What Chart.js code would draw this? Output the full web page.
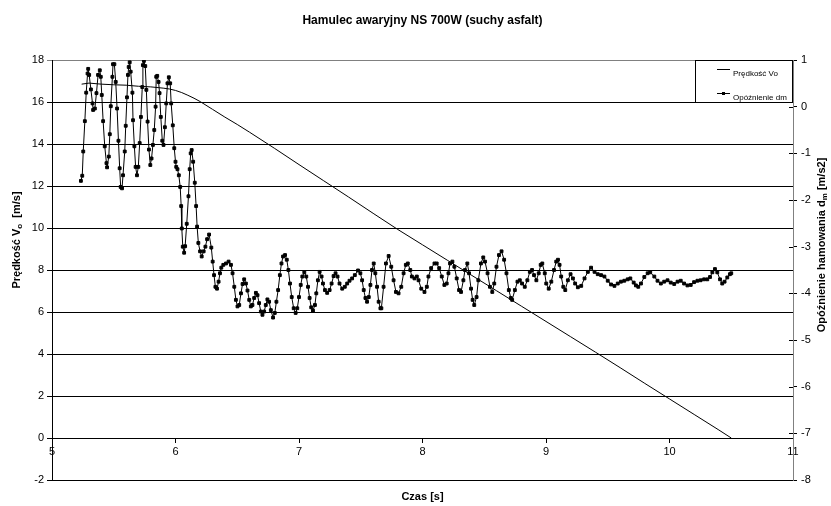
<!DOCTYPE html>
<html>
<head>
<meta charset="utf-8">
<script src="https://cdn.jsdelivr.net/npm/chart.js@4"></script>
<style>
  html, body { margin: 0; padding: 0; background: #fff; }
  canvas { display: block; }
</style>
</head>
<body>
<canvas id="chart" width="831" height="506"></canvas>
<script>
const chartTitle = 'Hamulec awaryjny NS 700W (suchy asfalt)';
const xTitle = 'Czas [s]';
const legendLabels = ['Prędkość Vo', 'Opóźnienie dm'];

// Prędkość V0 [m/s] (left axis)
const speedTime = [5.24, 5.30, 5.40, 5.50, 5.60, 5.70, 5.80, 5.90, 5.95, 6.00,
  6.05, 6.10, 6.15, 6.20, 6.30, 6.40, 6.50, 6.60, 6.80, 7.00,
  7.20, 7.40, 7.60, 7.80, 8.00, 8.20, 8.40, 8.60, 8.80, 9.00,
  9.20, 9.40, 9.60, 9.80, 10.00, 10.20, 10.40, 10.50];
const speedValue = [16.85, 16.90, 16.85, 16.82, 16.80, 16.75, 16.72, 16.66, 16.62, 16.55,
  16.45, 16.32, 16.18, 16.02, 15.65, 15.28, 14.93, 14.56, 13.80, 13.02,
  12.25, 11.48, 10.70, 9.93, 9.20, 8.47, 7.74, 7.01, 6.28, 5.55,
  4.82, 4.09, 3.35, 2.60, 1.86, 1.12, 0.38, 0.00];

// Opóźnienie hamowania dm [m/s2] (right axis)
const decelTime = [
  5.234, 5.245, 5.253, 5.266, 5.277, 5.288, 5.293, 5.301, 5.315, 5.328,
  5.333, 5.347, 5.360, 5.373, 5.387, 5.395, 5.403, 5.414, 5.427, 5.441,
  5.446, 5.460, 5.468, 5.476, 5.489, 5.494, 5.505, 5.516, 5.527, 5.538,
  5.548, 5.556, 5.567, 5.575, 5.589, 5.597, 5.607, 5.615, 5.621, 5.629,
  5.637, 5.651, 5.656, 5.667, 5.677, 5.688, 5.699, 5.710, 5.720, 5.731,
  5.736, 5.744, 5.755, 5.764, 5.774, 5.785, 5.796, 5.806, 5.817, 5.828,
  5.839, 5.844, 5.852, 5.863, 5.871, 5.881, 5.893, 5.903, 5.914, 5.925,
  5.935, 5.946, 5.957, 5.965, 5.978, 5.990, 6.000, 6.006, 6.016, 6.027,
  6.038, 6.046, 6.051, 6.059, 6.070, 6.078, 6.091, 6.105, 6.115, 6.123,
  6.131, 6.143, 6.156, 6.167, 6.175, 6.185, 6.199, 6.212, 6.228, 6.242,
  6.256, 6.272, 6.290, 6.301, 6.312, 6.323, 6.336, 6.349, 6.360, 6.371,
  6.387, 6.409, 6.430, 6.449, 6.462, 6.476, 6.489, 6.502, 6.516, 6.530,
  6.543, 6.556, 6.570, 6.583, 6.597, 6.610, 6.623, 6.637, 6.651, 6.664,
  6.677, 6.691, 6.704, 6.718, 6.731, 6.744, 6.758, 6.772, 6.790, 6.804,
  6.817, 6.831, 6.845, 6.858, 6.871, 6.887, 6.901, 6.914, 6.927, 6.941,
  6.957, 6.973, 6.986, 7.000, 7.014, 7.027, 7.043, 7.059, 7.073, 7.086,
  7.099, 7.113, 7.129, 7.140, 7.153, 7.167, 7.183, 7.194, 7.210, 7.228,
  7.248, 7.264, 7.280, 7.296, 7.312, 7.328, 7.350, 7.371, 7.390, 7.409,
  7.430, 7.452, 7.478, 7.497, 7.511, 7.524, 7.538, 7.551, 7.565, 7.578,
  7.591, 7.605, 7.618, 7.632, 7.645, 7.659, 7.667, 7.685, 7.704, 7.726,
  7.747, 7.766, 7.785, 7.806, 7.828, 7.847, 7.865, 7.881, 7.901, 7.914,
  7.935, 7.954, 7.968, 7.990, 8.016, 8.035, 8.048, 8.070, 8.097, 8.115,
  8.135, 8.156, 8.177, 8.196, 8.210, 8.223, 8.242, 8.258, 8.277, 8.296,
  8.312, 8.331, 8.344, 8.363, 8.377, 8.393, 8.406, 8.419, 8.438, 8.452,
  8.473, 8.492, 8.506, 8.527, 8.546, 8.565, 8.581, 8.599, 8.619, 8.640,
  8.661, 8.680, 8.699, 8.715, 8.726, 8.748, 8.769, 8.788, 8.806, 8.828,
  8.849, 8.869, 8.887, 8.903, 8.922, 8.941, 8.957, 8.970, 8.990, 9.002,
  9.022, 9.043, 9.065, 9.083, 9.097, 9.110, 9.123, 9.140, 9.156, 9.177,
  9.199, 9.218, 9.236, 9.258, 9.285, 9.312, 9.339, 9.365, 9.393, 9.419,
  9.446, 9.473, 9.500, 9.527, 9.554, 9.581, 9.607, 9.634, 9.661, 9.683,
  9.710, 9.728, 9.747, 9.769, 9.796, 9.823, 9.844, 9.877, 9.903, 9.930,
  9.957, 9.984, 10.010, 10.038, 10.065, 10.091, 10.118, 10.145, 10.172, 10.199,
  10.226, 10.252, 10.280, 10.306, 10.328, 10.347, 10.368, 10.387, 10.409, 10.427,
  10.446, 10.468, 10.489, 10.500];
const decelValue = [
  -1.59, -1.48, -0.96, -0.31, 0.30, 0.71, 0.81, 0.68, 0.37, 0.07,
  -0.07, -0.04, 0.29, 0.68, 0.78, 0.64, 0.25, -0.31, -0.85, -1.21,
  -1.30, -1.07, -0.59, 0.01, 0.64, 0.91, 0.91, 0.53, -0.04, -0.73,
  -1.32, -1.72, -1.75, -1.47, -0.96, -0.41, 0.20, 0.68, 0.85, 0.95,
  0.75, 0.30, -0.29, -0.85, -1.29, -1.47, -1.29, -0.78, -0.22, 0.42,
  0.89, 0.98, 0.87, 0.36, -0.32, -0.92, -1.25, -1.11, -0.82, -0.50,
  0.00, 0.64, 0.66, 0.53, 0.29, -0.22, -0.73, -0.82, -0.44, 0.07,
  0.50, 0.63, 0.50, 0.07, -0.40, -0.89, -1.18, -1.29, -1.34, -1.47,
  -1.72, -2.13, -2.61, -3.00, -3.13, -2.99, -2.51, -1.92, -1.34, -1.00,
  -0.93, -1.18, -1.63, -2.13, -2.57, -2.92, -3.10, -3.21, -3.10, -3.00,
  -2.84, -2.74, -3.02, -3.32, -3.61, -3.86, -3.90, -3.75, -3.57, -3.45,
  -3.39, -3.36, -3.32, -3.39, -3.57, -3.86, -4.14, -4.28, -4.25, -4.00,
  -3.80, -3.70, -3.79, -3.94, -4.14, -4.28, -4.25, -4.10, -3.99, -4.04,
  -4.21, -4.39, -4.46, -4.39, -4.25, -4.13, -4.18, -4.36, -4.52, -4.42,
  -4.18, -3.93, -3.61, -3.36, -3.21, -3.18, -3.28, -3.50, -3.79, -4.08,
  -4.32, -4.42, -4.32, -4.08, -3.82, -3.64, -3.55, -3.64, -3.86, -4.10,
  -4.30, -4.37, -4.25, -4.00, -3.72, -3.54, -3.64, -3.79, -3.93, -3.99,
  -3.93, -3.79, -3.63, -3.57, -3.64, -3.79, -3.90, -3.86, -3.79, -3.73,
  -3.68, -3.61, -3.51, -3.57, -3.72, -3.93, -4.10, -4.18, -4.08, -3.82,
  -3.50, -3.36, -3.57, -3.86, -4.18, -4.32, -4.32, -3.86, -3.36, -3.20,
  -3.43, -3.72, -3.97, -4.00, -3.86, -3.57, -3.39, -3.36, -3.50, -3.64,
  -3.68, -3.64, -3.72, -3.90, -3.97, -3.86, -3.64, -3.46, -3.36, -3.36,
  -3.46, -3.64, -3.82, -3.79, -3.57, -3.36, -3.32, -3.43, -3.68, -3.93,
  -3.97, -3.72, -3.50, -3.36, -3.57, -3.90, -4.14, -4.25, -4.08, -3.72,
  -3.36, -3.23, -3.32, -3.57, -3.86, -3.97, -3.79, -3.43, -3.18, -3.10,
  -3.28, -3.57, -3.93, -4.10, -4.14, -3.93, -3.75, -3.72, -3.79, -3.86,
  -3.72, -3.54, -3.50, -3.61, -3.72, -3.57, -3.39, -3.36, -3.57, -3.79,
  -3.90, -3.75, -3.50, -3.32, -3.28, -3.39, -3.64, -3.86, -3.93, -3.72,
  -3.59, -3.68, -3.79, -3.87, -3.84, -3.68, -3.54, -3.45, -3.54, -3.59,
  -3.61, -3.64, -3.73, -3.81, -3.84, -3.79, -3.75, -3.73, -3.70, -3.68,
  -3.77, -3.83, -3.86, -3.79, -3.65, -3.57, -3.55, -3.64, -3.73, -3.79,
  -3.75, -3.72, -3.77, -3.80, -3.75, -3.73, -3.79, -3.83, -3.82, -3.76,
  -3.73, -3.72, -3.70, -3.70, -3.65, -3.55, -3.48, -3.55, -3.70, -3.79,
  -3.75, -3.66, -3.59, -3.57];

const FONT = "'Liberation Sans', Arial, sans-serif";
Chart.defaults.font.family = FONT;
Chart.defaults.color = '#000';

const toPoints = (xs, ys) => xs.map((x, i) => ({ x: x, y: ys[i] }));

// vertical axis title with a subscript part
function drawVerticalTitle(ctx, x, y, parts) {
  const big = 'bold 11px ' + FONT, small = 'bold 8px ' + FONT;
  let total = 0;
  parts.forEach((p) => { ctx.font = p[1] ? small : big; total += ctx.measureText(p[0]).width; });
  ctx.save();
  ctx.translate(x, y);
  ctx.rotate(-Math.PI / 2);
  ctx.textAlign = 'left';
  ctx.textBaseline = 'middle';
  let pos = -total / 2;
  parts.forEach((p) => {
    ctx.font = p[1] ? small : big;
    ctx.fillText(p[0], pos, p[1] ? 3 : 0);
    pos += ctx.measureText(p[0]).width;
  });
  ctx.restore();
}

const overlay = {
  id: 'overlay',
  afterDraw(chart) {
    const ctx = chart.ctx, a = chart.chartArea;
    const cx = (a.left + a.right) / 2;
    ctx.save();
    ctx.fillStyle = '#000';
    ctx.textAlign = 'center';
    ctx.textBaseline = 'middle';
    ctx.font = 'bold 12px ' + FONT;
    ctx.fillText(chartTitle, cx, 21);
    ctx.font = 'bold 11px ' + FONT;
    ctx.fillText(xTitle, cx, 497);
    drawVerticalTitle(ctx, 17, 240, [['Prędkość V', false], ['o', true], ['  [m/s]', false]]);
    drawVerticalTitle(ctx, 822, 245, [['Opóźnienie hamowania d', false], ['m', true], [' [m/s2]', false]]);

    // right axis ticks cross the axis line
    const r = chart.scales.y2;
    ctx.strokeStyle = '#000';
    ctx.lineWidth = 1;
    ctx.beginPath();
    r.ticks.forEach((t) => {
      const py = Math.round(r.getPixelForValue(t.value)) + 0.5;
      ctx.moveTo(a.right - 4, py); ctx.lineTo(a.right, py);
    });
    ctx.stroke();

    // legend box
    const lx = 695, ly = 60, lw = a.right - 695, lh = 43;
    ctx.fillStyle = '#fff';
    ctx.fillRect(lx, ly, lw, lh);
    ctx.strokeStyle = '#000';
    ctx.strokeRect(lx + 0.5, ly + 0.5, lw - 1, lh - 1);
    ctx.beginPath();
    ctx.moveTo(717, 69.5); ctx.lineTo(730, 69.5);
    ctx.moveTo(717, 93.5); ctx.lineTo(730, 93.5);
    ctx.stroke();
    ctx.fillStyle = '#000';
    ctx.fillRect(722, 92, 3, 3);
    ctx.font = '8px ' + FONT;
    ctx.textAlign = 'left';
    ctx.fillText(legendLabels[0], 733, 74);
    ctx.fillText(legendLabels[1], 733, 97.5);
    ctx.restore();
  }
};

new Chart(document.getElementById('chart'), {
  type: 'line',
  data: {
    datasets: [{
      label: legendLabels[0],
      data: toPoints(speedTime, speedValue),
      yAxisID: 'y',
      borderColor: '#000',
      borderWidth: 1,
      pointRadius: 0,
      tension: 0
    }, {
      label: legendLabels[1],
      data: toPoints(decelTime, decelValue),
      yAxisID: 'y2',
      borderColor: '#000',
      borderWidth: 1,
      pointStyle: 'rect',
      pointRadius: 2,
      pointBorderWidth: 1,
      pointBackgroundColor: '#000',
      pointBorderColor: '#000',
      tension: 0
    }]
  },
  options: {
    responsive: false,
    animation: false,
    layout: { padding: { top: 60, bottom: 26, left: 0, right: 0 } },
    plugins: {
      legend: { display: false },
      title: { display: false },
      tooltip: { enabled: false }
    },
    scales: {
      x: {
        type: 'linear',
        position: { y: 0 },
        min: 5,
        max: 11,
        ticks: { stepSize: 1, padding: 3, font: { size: 11 }, color: '#000' },
        grid: { drawOnChartArea: false, tickLength: 4, color: '#000' },
        border: { display: true, color: '#000' }
      },
      y: {
        position: 'left',
        min: -2,
        max: 18,
        ticks: { stepSize: 2, padding: 3, font: { size: 11 }, color: '#000' },
        grid: {
          color: (c) => (c.tick && c.tick.value === 18 ? '#808080' : '#000'),
          tickLength: 5
        },
        border: { display: true, color: '#000' },
        afterFit: (scale) => { scale.width = 52; }
      },
      y2: {
        position: 'right',
        min: -8,
        max: 1,
        ticks: { stepSize: 1, padding: 4, font: { size: 11 }, color: '#000' },
        grid: { drawOnChartArea: false, tickLength: 4, color: '#000' },
        border: { display: true, color: '#808080' },
        afterFit: (scale) => { scale.width = 38; }
      }
    }
  },
  plugins: [overlay]
});
</script>
</body>
</html>
